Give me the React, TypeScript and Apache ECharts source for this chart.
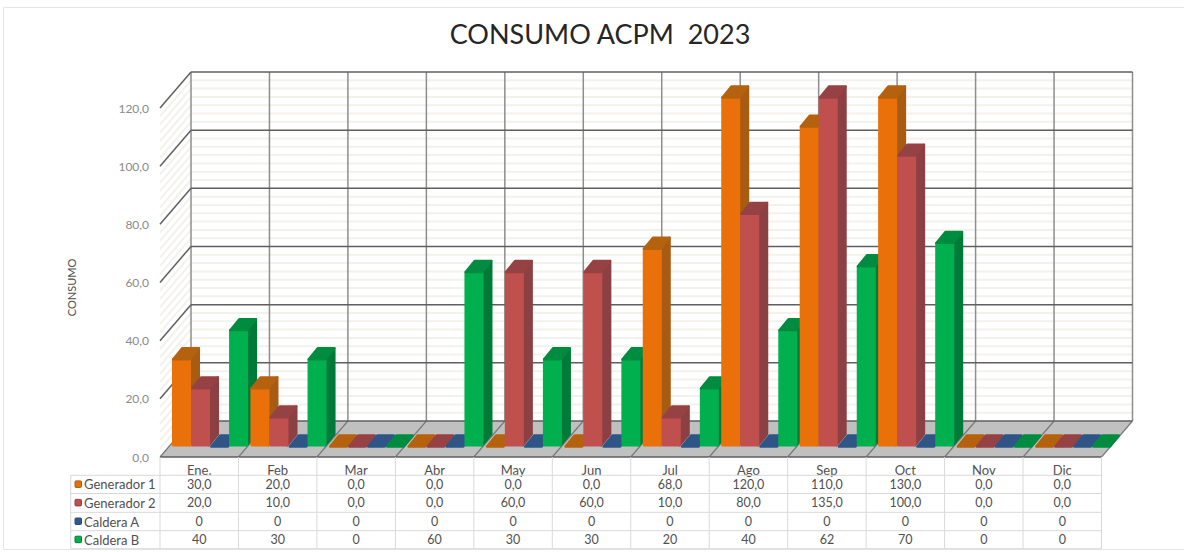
import React, { useEffect, useRef } from "react";
import * as echarts from "echarts";

const chartTitle = "CONSUMO ACPM  2023";
const months = ["Ene.", "Feb", "Mar", "Abr", "May", "Jun", "Jul", "Ago", "Sep", "Oct", "Nov", "Dic"];
const generador1 = [30, 20, 0, 0, 0, 0, 68, 120, 110, 130, 0, 0];
const generador2 = [20, 10, 0, 0, 60, 60, 10, 80, 135, 100, 0, 0];
const calderaA = [0, 0, 0, 0, 0, 0, 0, 0, 0, 0, 0, 0];
const calderaB = [40, 30, 0, 60, 30, 30, 20, 40, 62, 70, 0, 0];
const yMax = 120;
const yStep = 20;
const minorPerStep = 7;

const FONT = "Lato";
const WALL_DX = 31;
const WALL_DY = 36;
const BASE_DX = 12;
const BASE_DY = 10.5;
const BAR_DX = 9;
const BAR_DY = 11;
const BAR_SHARE = 0.2425;
const BAR_ROUND = 2.4;

const rows = [
  { name: "Generador 1", values: generador1, decimals: 1, front: "#EA7009", side: "#A85B12", top: "#B5620F" },
  { name: "Generador 2", values: generador2, decimals: 1, front: "#C0504D", side: "#8C4043", top: "#964244" },
  { name: "Caldera A", values: calderaA, decimals: 0, front: "#2F5A8F", side: "#284C7A", top: "#2F5587" },
  { name: "Caldera B", values: calderaB, decimals: 0, front: "#00B04F", side: "#007A38", top: "#008C40" },
];

const TABLE_LEFT = 70.7;
const ROW_LINES = [475.3, 493.5, 512.3, 530.7, 548.7];

const fmt = (v: number, decimals: number) => v.toFixed(decimals).replace(".", ",");

// Back wall, side wall and floor of the 3D plot box.
function renderWalls(_p: any, api: any) {
  const band = api.size([1, 0])[0];
  const origin = api.coord([0, 0]);
  const x0 = origin[0] - band / 2;
  const x1 = x0 + band * months.length;
  const children: any[] = [];
  const line = (a: number[], b: number[], stroke: string, lineWidth: number, z2: number) =>
    children.push({
      type: "line",
      z2,
      shape: { x1: a[0], y1: a[1], x2: b[0], y2: b[1] },
      style: { stroke, lineWidth },
    });

  for (let v = 0; v < yMax; v += yStep) {
    for (let m = 1; m < minorPerStep; m++) {
      const y = api.coord([0, v + (yStep * m) / minorPerStep])[1];
      line([x0 + WALL_DX, y - WALL_DY], [x1 + WALL_DX, y - WALL_DY], "#F3F2EA", 2, 0);
      line([x0, y], [x0 + WALL_DX, y - WALL_DY], "#F3F2EA", 2, 0);
    }
  }
  for (let i = 0; i <= months.length; i++) {
    const x = x0 + band * i + WALL_DX;
    line([x, api.coord([0, yMax])[1] - WALL_DY], [x, origin[1] - WALL_DY], "#8E8E8E", 1.5, 1);
  }
  for (let v = yStep; v <= yMax; v += yStep) {
    const y = api.coord([0, v])[1];
    line([x0 + WALL_DX, y - WALL_DY], [x1 + WALL_DX, y - WALL_DY], "#5F5F5F", 1.5, 2);
    line([x0, y], [x0 + WALL_DX, y - WALL_DY], "#5F5F5F", 1.5, 2);
  }
  children.push({
    type: "polygon",
    z2: 3,
    shape: {
      points: [
        [x0, origin[1]],
        [x1, origin[1]],
        [x1 + WALL_DX, origin[1] - WALL_DY],
        [x0 + WALL_DX, origin[1] - WALL_DY],
      ],
    },
    style: { fill: "#C0C0C0" },
  });
  for (let i = 0; i <= months.length; i++) {
    const x = x0 + band * i;
    line([x, origin[1]], [x + WALL_DX, origin[1] - WALL_DY], "#7A7A7A", 1.2, 4);
  }
  line([x0 + WALL_DX, origin[1] - WALL_DY], [x1 + WALL_DX, origin[1] - WALL_DY], "#5F5F5F", 1.5, 4);
  line([x0, origin[1]], [x1, origin[1]], "#5F5F5F", 1.5, 4);
  return { type: "group", children };
}

// One 3D column: front face, side face and top, clipped at the axis maximum.
function makeBarRenderer(rowIndex: number) {
  const row = rows[rowIndex];
  return (_p: any, api: any) => {
    const cat = api.value(0);
    const value = Math.min(api.value(1), yMax);
    const band = api.size([1, 0])[0];
    const w = band * BAR_SHARE;
    const center = api.coord([cat, 0]);
    const left = center[0] - band / 2 + BASE_DX + rowIndex * w;
    const bottom = center[1] - BASE_DY;
    const topY = api.coord([cat, value])[1] - BASE_DY;
    const z2 = 10 + cat * 10 + rowIndex * 2;
    const inset = BAR_ROUND / 2;
    const face = (points: number[][], fill: string, order: number) => ({
      type: "polygon",
      z2: z2 + order,
      shape: { points },
      style: { fill, stroke: fill, lineWidth: BAR_ROUND, lineJoin: "round" },
    });
    const l = left + inset;
    const r = left + w - inset;
    const b = bottom - inset;
    const children: any[] = [];
    if (value > 0) {
      children.push(
        face([[r, topY], [r + BAR_DX, topY - BAR_DY], [r + BAR_DX, b - BAR_DY], [r, b]], row.side, 0),
        face([[l, topY], [r, topY], [r, b], [l, b]], row.front, 1)
      );
    }
    children.push(
      face([[l, topY], [r, topY], [r + BAR_DX, topY - BAR_DY], [l + BAR_DX, topY - BAR_DY]], row.top, value > 0 ? 1 : 0)
    );
    return { type: "group", children };
  };
}

// Data table under the plot; one column per category, legend keys in the first column.
function renderTable(_p: any, api: any) {
  const cat = api.value(0);
  const band = api.size([1, 0])[0];
  const center = api.coord([cat, 0]);
  const left = center[0] - band / 2;
  const children: any[] = [];
  const text = (t: string, x: number, y: number, align: string, size: number) =>
    children.push({
      type: "text",
      x,
      y,
      style: { text: t, fill: "#505050", font: `${size}px ${FONT}`, align, verticalAlign: "middle" },
    });
  const rule = (x1: number, y1: number, x2: number, y2: number) =>
    children.push({ type: "line", shape: { x1, y1, x2, y2 }, style: { stroke: "#D9D9D9", lineWidth: 1 } });

  rule(left + band, center[1], left + band, ROW_LINES[4]);
  if (cat === 0) {
    rule(left, center[1], left, ROW_LINES[4]);
    rule(TABLE_LEFT, ROW_LINES[0], TABLE_LEFT, ROW_LINES[4]);
    ROW_LINES.forEach((y) => rule(TABLE_LEFT, y, left + band * months.length, y));
    rows.forEach((row, r) => {
      const cy = (ROW_LINES[r] + ROW_LINES[r + 1]) / 2;
      children.push({
        type: "rect",
        shape: { x: 75, y: cy - 3.5, width: 6.5, height: 6.5, r: 1 },
        style: { fill: row.front, stroke: row.side, lineWidth: 1 },
      });
      text(row.name, 84, cy, "left", 13);
    });
  }
  rows.forEach((row, r) => {
    const cy = (ROW_LINES[r] + ROW_LINES[r + 1]) / 2;
    text(fmt(row.values[cat], row.decimals), center[0], cy, "center", 12.5);
  });
  return { type: "group", children };
}

export default function App() {
  const ref = useRef<HTMLDivElement>(null);
  useEffect(() => {
    const chart = echarts.init(ref.current!, undefined, { renderer: "svg" });
    chart.setOption({
      animation: false,
      backgroundColor: "#FFFFFF",
      title: {
        text: chartTitle,
        left: 595,
        top: 15,
        textAlign: "center",
        textStyle: { fontFamily: FONT, fontSize: 27, fontWeight: "normal", color: "#262626" },
      },
      graphic: [
        {
          type: "rect",
          shape: { x: 3.5, y: 7.5, width: 1190, height: 542 },
          style: { fill: "none", stroke: "#E6E6E6", lineWidth: 1 },
          silent: true,
        },
      ],
      grid: { left: 160, right: 82.5, top: 108, bottom: 95 },
      xAxis: {
        type: "category",
        data: months,
        axisLine: { show: false },
        axisTick: { show: false },
        axisLabel: { color: "#505050", fontFamily: FONT, fontSize: 13, margin: 6 },
      },
      yAxis: {
        type: "value",
        min: 0,
        max: yMax,
        interval: yStep,
        name: "CONSUMO",
        nameLocation: "middle",
        nameGap: 83,
        nameRotate: 90,
        nameTextStyle: { color: "#505050", fontFamily: FONT, fontSize: 11, padding: [0, 10, 0, 0] },
        axisLine: { show: false },
        axisTick: { show: false },
        splitLine: { show: false },
        axisLabel: {
          color: "#8A8A8A",
          fontFamily: FONT,
          fontSize: 12,
          margin: 11,
          formatter: (v: number) => fmt(v, 1),
        },
      },
      series: [
        { type: "custom", name: "Plano", silent: true, data: [[0, 0]], renderItem: renderWalls, z: 1 },
        ...rows.map((row, r) => ({
          type: "custom",
          name: row.name,
          silent: true,
          clip: false,
          z: 2,
          data: row.values.map((v, i) => [i, v]),
          renderItem: makeBarRenderer(r),
        })),
        {
          type: "custom",
          name: "Tabla",
          silent: true,
          z: 3,
          data: months.map((_, i) => [i, 0]),
          renderItem: renderTable,
        },
      ],
    });
    return () => chart.dispose();
  }, []);
  return <div ref={ref} style={{ position: "absolute", left: 0, top: 0, width: 1184, height: 552 }} />;
}
